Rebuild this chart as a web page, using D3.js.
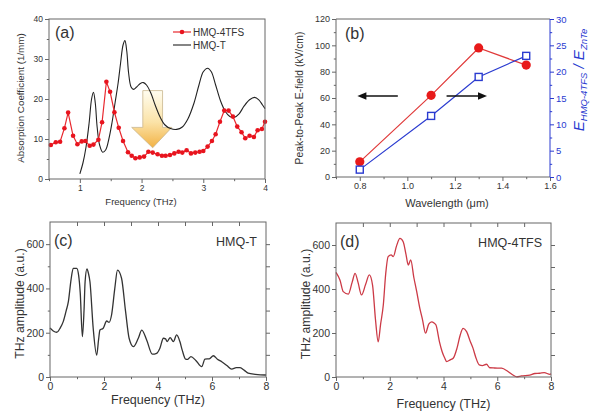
<!DOCTYPE html>
<html>
<head>
<meta charset="utf-8">
<script src="https://cdn.jsdelivr.net/npm/d3@7"></script>
<style>
body { margin: 0; background: #fff; }
text { font-family: "Liberation Sans", Arial, sans-serif; fill: #333; }
</style>
</head>
<body>
<svg id="fig" width="590" height="413"></svg>
<script>
// (a) absorption coefficient, HMQ-4TFS (dots) and HMQ-T (line)
var absRedFreq = [0.53, 0.61, 0.68, 0.75, 0.81, 0.89, 0.96, 1.03, 1.09, 1.16, 1.22, 1.30, 1.36, 1.43, 1.49, 1.56, 1.63, 1.70, 1.78, 1.84, 1.90, 1.97, 2.04, 2.11, 2.18, 2.26, 2.33, 2.39, 2.46, 2.53, 2.60, 2.66, 2.73, 2.80, 2.87, 2.94, 3.00, 3.07, 3.14, 3.20, 3.27, 3.34, 3.41, 3.48, 3.55, 3.62, 3.68, 3.75, 3.82, 3.88, 3.95, 4.00];
var absRedVal = [8.5, 9.2, 9.3, 12.7, 16.6, 10.8, 8.7, 9.4, 9.5, 8.3, 8.6, 9.8, 14.2, 24.3, 21.8, 16.7, 12.8, 9.5, 6.7, 5.8, 5.2, 5.4, 5.6, 6.8, 6.6, 6.2, 5.8, 5.8, 6.0, 6.4, 6.8, 6.6, 7.2, 6.4, 6.6, 6.8, 7.0, 8.1, 9.5, 11.2, 14.3, 17.1, 17.1, 15.6, 13.1, 11.7, 10.2, 10.8, 10.5, 12.2, 12.5, 14.3];
var absBlkFreq = [1.00, 1.05, 1.10, 1.15, 1.19, 1.22, 1.25, 1.28, 1.32, 1.37, 1.42, 1.47, 1.52, 1.57, 1.62, 1.66, 1.70, 1.73, 1.76, 1.79, 1.83, 1.87, 1.92, 1.98, 2.03, 2.08, 2.15, 2.22, 2.30, 2.38, 2.47, 2.57, 2.66, 2.75, 2.85, 2.93, 3.00, 3.07, 3.13, 3.20, 3.28, 3.36, 3.43, 3.50, 3.58, 3.66, 3.75, 3.83, 3.90, 3.96, 4.00];
var absBlkVal = [1.3, 4, 8, 14, 20, 21.7, 19, 13, 8.5, 6.7, 7.3, 10, 14, 19, 24, 29, 33.5, 34.6, 32, 26.5, 23, 22.4, 23, 23.9, 24.1, 23.5, 21.5, 18.5, 15.5, 13.5, 12.6, 12.4, 13, 15, 19, 23.5, 26.8, 27.7, 26.8, 23.5, 19.5, 16.8, 15.6, 15.4, 16.3, 18.2, 19.8, 20.4, 19.8, 18.5, 17.6];

// (b) peak-to-peak field and ratio vs pump wavelength
var wavelengths = [0.8, 1.1, 1.3, 1.5];
var peakField = [11.5, 62, 98, 85];
var fieldRatio = [1.4, 11.6, 19, 23];

// (c) THz spectrum HMQ-T
var specTFreq = [0, 0.12, 0.25, 0.38, 0.49, 0.6, 0.68, 0.78, 0.86, 0.99, 1.06, 1.12, 1.2, 1.26, 1.3, 1.37, 1.42, 1.48, 1.6, 1.73, 1.8, 1.85, 1.97, 2.1, 2.19, 2.28, 2.4, 2.5, 2.65, 2.8, 2.93, 3.09, 3.27, 3.4, 3.58, 3.79, 3.95, 4.07, 4.2, 4.28, 4.34, 4.45, 4.57, 4.69, 4.81, 4.9, 5.02, 5.1, 5.22, 5.4, 5.62, 5.74, 5.9, 6.05, 6.2, 6.36, 6.55, 6.73, 6.9, 7.04, 7.2, 7.34, 7.6, 7.96, 8.0];
var specTVal = [221, 208, 202, 222, 250, 300, 340, 440, 491, 491, 460, 380, 182, 300, 430, 488, 470, 430, 220, 99, 170, 212, 220, 253, 247, 280, 400, 483, 446, 295, 175, 137, 175, 212, 167, 103, 107, 130, 175, 172, 160, 178, 160, 190, 160, 120, 81, 80, 92, 75, 47, 81, 82, 96, 80, 69, 52, 36, 42, 42, 30, 17, 12, 9, 9];

// (d) THz spectrum HMQ-4TFS
var spec4Freq = [0, 0.15, 0.27, 0.46, 0.6, 0.71, 0.82, 0.95, 1.1, 1.24, 1.36, 1.47, 1.57, 1.66, 1.76, 1.85, 1.94, 2.05, 2.13, 2.25, 2.38, 2.5, 2.6, 2.69, 2.78, 2.9, 3.0, 3.12, 3.22, 3.33, 3.45, 3.56, 3.65, 3.72, 3.85, 3.95, 4.05, 4.12, 4.25, 4.36, 4.5, 4.62, 4.73, 4.86, 5.0, 5.1, 5.2, 5.33, 5.45, 5.6, 5.72, 5.9, 6.16, 6.4, 6.6, 6.72, 6.9, 7.21, 7.4, 7.58, 7.75, 7.96, 8.0];
var spec4Val = [476, 440, 388, 377, 430, 471, 430, 373, 420, 464, 418, 260, 160, 240, 327, 470, 547, 555, 547, 595, 630, 615, 560, 509, 532, 450, 390, 312, 260, 199, 240, 251, 245, 236, 160, 115, 85, 70, 78, 85, 130, 190, 221, 206, 160, 130, 90, 55, 52, 58, 42, 41, 40, 25, 8, 1, 5, 9, 16, 17, 20, 12, 15];

// annotations (data units)
var bigArrow = { left: 1.84, right: 2.49, shaftL: 2.02, shaftR: 2.34, top: 22.1, neck: 12.9, tip: 7.8 };
var bArrows = [{ from: 0.96, to: 0.79, v: 61.5 }, { from: 1.165, to: 1.335, v: 61.5 }];

var svg = d3.select("#fig");
var axisCol = "#666";

function zip(a, b) { return a.map(function (d, i) { return [d, b[i]]; }); }

//draw one axis: major ticks with labels and short minor ticks
function axis(g, gen, scale, major, minor, fmt, tr, fs, col, out) {
    var s = out === false ? -1 : 1;
    if (minor) {
        g.append("g").attr("transform", tr)
            .call(gen(scale).tickValues(minor).tickSize(2.2 * s).tickFormat(""))
            .call(function (a) { a.select(".domain").remove(); a.selectAll("line").attr("stroke", col); });
    }
    var m = g.append("g").attr("transform", tr)
        .call(gen(scale).tickValues(major).tickSize(4 * s).tickPadding(2).tickFormat(fmt));
    m.select(".domain").remove();
    m.selectAll("line").attr("stroke", col);
    m.selectAll("text").style("font-size", fs + "px").style("fill", col == axisCol ? "#333" : col);
    return m;
}

function frame(g, x, y) {
    g.append("rect")
        .attr("x", x.range()[0]).attr("y", y.range()[1])
        .attr("width", x.range()[1] - x.range()[0]).attr("height", y.range()[0] - y.range()[1])
        .attr("fill", "none").attr("stroke", axisCol).attr("stroke-width", 1);
}

function label(g, txt, x, y, fs, opts) {
    opts = opts || {};
    var t = g.append("text").attr("x", x).attr("y", y).text(txt)
        .style("font-size", fs + "px")
        .attr("text-anchor", opts.anchor || "start");
    if (opts.rot) t.attr("transform", "rotate(-90," + x + "," + y + ")");
    if (opts.weight) t.style("font-weight", opts.weight);
    return t;
}

var defs = svg.append("defs");
var grad = defs.append("linearGradient").attr("id", "arrowGrad").attr("x1", 0).attr("y1", 0).attr("x2", 0).attr("y2", 1);
grad.append("stop").attr("offset", "0%").attr("stop-color", "#fffdf0");
grad.append("stop").attr("offset", "55%").attr("stop-color", "#fbe3a8");
grad.append("stop").attr("offset", "100%").attr("stop-color", "#f2b244");

// ---------- panel (a) ----------
(function () {
    var g = svg.append("g");
    var x = d3.scaleLinear().domain([0.5, 4]).range([49, 265]);
    var y = d3.scaleLinear().domain([0, 40]).range([179, 19]);

    axis(g, d3.axisBottom, x, [1, 2, 3, 4], [0.5, 1.5, 2.5, 3.5], d3.format("d"), "translate(0,179)", 8.5, axisCol);
    axis(g, d3.axisLeft, y, [0, 10, 20, 30, 40], [5, 15, 25, 35], d3.format("d"), "translate(49,0)", 8.5, axisCol);

    // arrow
    var A = bigArrow;
    var pts = [[A.shaftL, A.top], [A.shaftR, A.top], [A.shaftR, A.neck], [A.right, A.neck], [(A.shaftL + A.shaftR) / 2, A.tip],
        [A.left, A.neck], [A.shaftL, A.neck]];
    g.append("path")
        .attr("d", d3.line().x(function (d) { return x(d[0]); }).y(function (d) { return y(d[1]); })(pts) + "Z")
        .attr("fill", "url(#arrowGrad)").attr("stroke", "#c9b68e").attr("stroke-width", 0.8);

    g.append("path").datum(zip(absBlkFreq, absBlkVal))
        .attr("d", d3.line().x(function (d) { return x(d[0]); }).y(function (d) { return y(d[1]); }).curve(d3.curveCatmullRom))
        .attr("fill", "none").attr("stroke", "#222").attr("stroke-width", 1.1);

    var red = zip(absRedFreq, absRedVal);
    g.append("path").datum(red)
        .attr("d", d3.line().x(function (d) { return x(d[0]); }).y(function (d) { return y(d[1]); }))
        .attr("fill", "none").attr("stroke", "#e8282e").attr("stroke-width", 1.2);
    g.selectAll(".rdot").data(red).enter().append("circle")
        .attr("cx", function (d) { return x(d[0]); }).attr("cy", function (d) { return y(d[1]); })
        .attr("r", 2.3).attr("fill", "#e8141e");

    frame(g, x, y);

    // legend
    g.append("line").attr("x1", 173).attr("x2", 191).attr("y1", 32).attr("y2", 32).attr("stroke", "#e8282e").attr("stroke-width", 1.2);
    g.append("circle").attr("cx", 182).attr("cy", 32).attr("r", 2.3).attr("fill", "#e8141e");
    label(g, "HMQ-4TFS", 193, 35.5, 10);
    g.append("line").attr("x1", 173).attr("x2", 191).attr("y1", 45).attr("y2", 45).attr("stroke", "#222").attr("stroke-width", 1.1);
    label(g, "HMQ-T", 193, 48.5, 10);

    label(g, "(a)", 55, 38, 16);
    label(g, "Frequency (THz)", 141, 205, 9.5, { anchor: "middle" });
    label(g, "Absorption Coefficient (1/mm)", 24, 98, 9.8, { anchor: "middle", rot: true });
})();

// ---------- panel (b) ----------
(function () {
    var g = svg.append("g");
    var blue = "#2a3bd0";
    var x = d3.scaleLinear().domain([0.7, 1.6]).range([336, 550]);
    var yl = d3.scaleLinear().domain([0, 120]).range([177, 19]);
    var yr = d3.scaleLinear().domain([0, 30]).range([177, 19]);

    axis(g, d3.axisBottom, x, [0.8, 1.0, 1.2, 1.4, 1.6], [0.7, 0.9, 1.1, 1.3, 1.5], d3.format(".1f"), "translate(0,177)", 9, axisCol);
    axis(g, d3.axisLeft, yl, d3.range(0, 121, 20), d3.range(10, 120, 20), d3.format("d"), "translate(336,0)", 9, axisCol);

    // frame: left, top, bottom grey; right blue
    g.append("path").attr("d", "M550,19H336V177H550").attr("fill", "none").attr("stroke", axisCol);
    g.append("line").attr("x1", 550).attr("x2", 550).attr("y1", 19).attr("y2", 177).attr("stroke", blue);
    axis(g, d3.axisRight, yr, d3.range(0, 31, 5), d3.range(2.5, 30, 5), d3.format("d"), "translate(550,0)", 9.5, blue);

    var line = d3.line().x(function (d) { return x(d[0]); });
    var red = zip(wavelengths, peakField), bl = zip(wavelengths, fieldRatio);
    g.append("path").datum(red).attr("d", line.y(function (d) { return yl(d[1]); }))
        .attr("fill", "none").attr("stroke", "#e03a3a").attr("stroke-width", 1.2);
    g.append("path").datum(bl).attr("d", d3.line().x(function (d) { return x(d[0]); }).y(function (d) { return yr(d[1]); }))
        .attr("fill", "none").attr("stroke", blue).attr("stroke-width", 1.2);
    g.selectAll(".rc").data(red).enter().append("circle")
        .attr("cx", function (d) { return x(d[0]); }).attr("cy", function (d) { return yl(d[1]); })
        .attr("r", 4.6).attr("fill", "#e81a1a");
    g.selectAll(".bs").data(bl).enter().append("rect")
        .attr("x", function (d) { return x(d[0]) - 3.5; }).attr("y", function (d) { return yr(d[1]) - 3.5; })
        .attr("width", 7).attr("height", 7).attr("fill", "#fff").attr("stroke", blue).attr("stroke-width", 1.4);

    // arrows
    bArrows.forEach(function (a) {
        var x0 = x(a.from), x1 = x(a.to), yy = yl(a.v), dir = x1 > x0 ? 1 : -1;
        g.append("line").attr("x1", x0).attr("x2", x1 - dir * 7).attr("y1", yy).attr("y2", yy)
            .attr("stroke", "#111").attr("stroke-width", 1.6);
        g.append("path").attr("d", "M" + x1 + "," + yy + "L" + (x1 - dir * 9) + "," + (yy - 3.8) + "L" + (x1 - dir * 9) + "," + (yy + 3.8) + "Z")
            .attr("fill", "#111");
    });

    label(g, "(b)", 345, 39, 16);
    label(g, "Wavelength (\u03bcm)", 447, 207, 11, { anchor: "middle" });
    label(g, "Peak-to-Peak E-field (kV/cm)", 303, 98, 10.3, { anchor: "middle", rot: true });

    var t = g.append("text").attr("x", 584).attr("y", 80).attr("text-anchor", "middle")
        .attr("transform", "rotate(-90,584,80)").style("font-style", "italic");
    t.append("tspan").text("E").style("font-size", "15px").style("fill", blue);
    t.append("tspan").text("HMQ-4TFS").attr("dy", 2.5).style("font-size", "9.5px").style("fill", blue);
    t.append("tspan").text(" / ").attr("dy", -2.5).style("font-size", "15px").style("fill", blue);
    t.append("tspan").text("E").style("font-size", "15px").style("fill", blue);
    t.append("tspan").text("ZnTe").attr("dy", 2.5).style("font-size", "9.5px").style("fill", blue);
})();

// ---------- panels (c) and (d) ----------
function spectrum(left, right, top, bottom, fx, fv, col, tag, name, lab) {
    var g = svg.append("g");
    var x = d3.scaleLinear().domain([0, 8]).range([left, right]);
    var y = d3.scaleLinear().domain([0, 700]).range([bottom, top]);

    axis(g, d3.axisBottom, x, [0, 2, 4, 6, 8], [1, 3, 5, 7], d3.format("d"), "translate(0," + bottom + ")", 10.5, axisCol);
    axis(g, d3.axisLeft, y, [0, 200, 400, 600], [100, 300, 500], d3.format("d"), "translate(" + left + ",0)", 10.5, axisCol);
    axis(g, d3.axisRight, y, [100, 200, 300, 400, 500, 600], null, "", "translate(" + right + ",0)", 10, axisCol);
    axis(g, d3.axisTop, x, [1, 2, 3, 4, 5, 6, 7], null, "", "translate(0," + top + ")", 10, axisCol, false);

    g.append("path").datum(zip(fx, fv))
        .attr("d", d3.line().x(function (d) { return x(d[0]); }).y(function (d) { return y(d[1]); }).curve(d3.curveMonotoneX))
        .attr("fill", "none").attr("stroke", col).attr("stroke-width", 1.3);
    frame(g, x, y);

    label(g, tag, left + 4, top + 24, 16);
    label(g, name, right - 9, top + 24, 12.5, { anchor: "end" });
    label(g, "Frequency (THz)", (left + right) / 2, bottom + lab, 12.5, { anchor: "middle" });
    label(g, "THz amplitude (a.u.)", left - 26, (top + bottom) / 2 + 4, 12.2, { anchor: "middle", rot: true });
}

spectrum(50, 266, 222, 377, specTFreq, specTVal, "#333", "(c)", "HMQ-T", 27);
spectrum(336, 551, 223, 377, spec4Freq, spec4Val, "#cc3a46", "(d)", "HMQ-4TFS", 31);
</script>
</body>
</html>
